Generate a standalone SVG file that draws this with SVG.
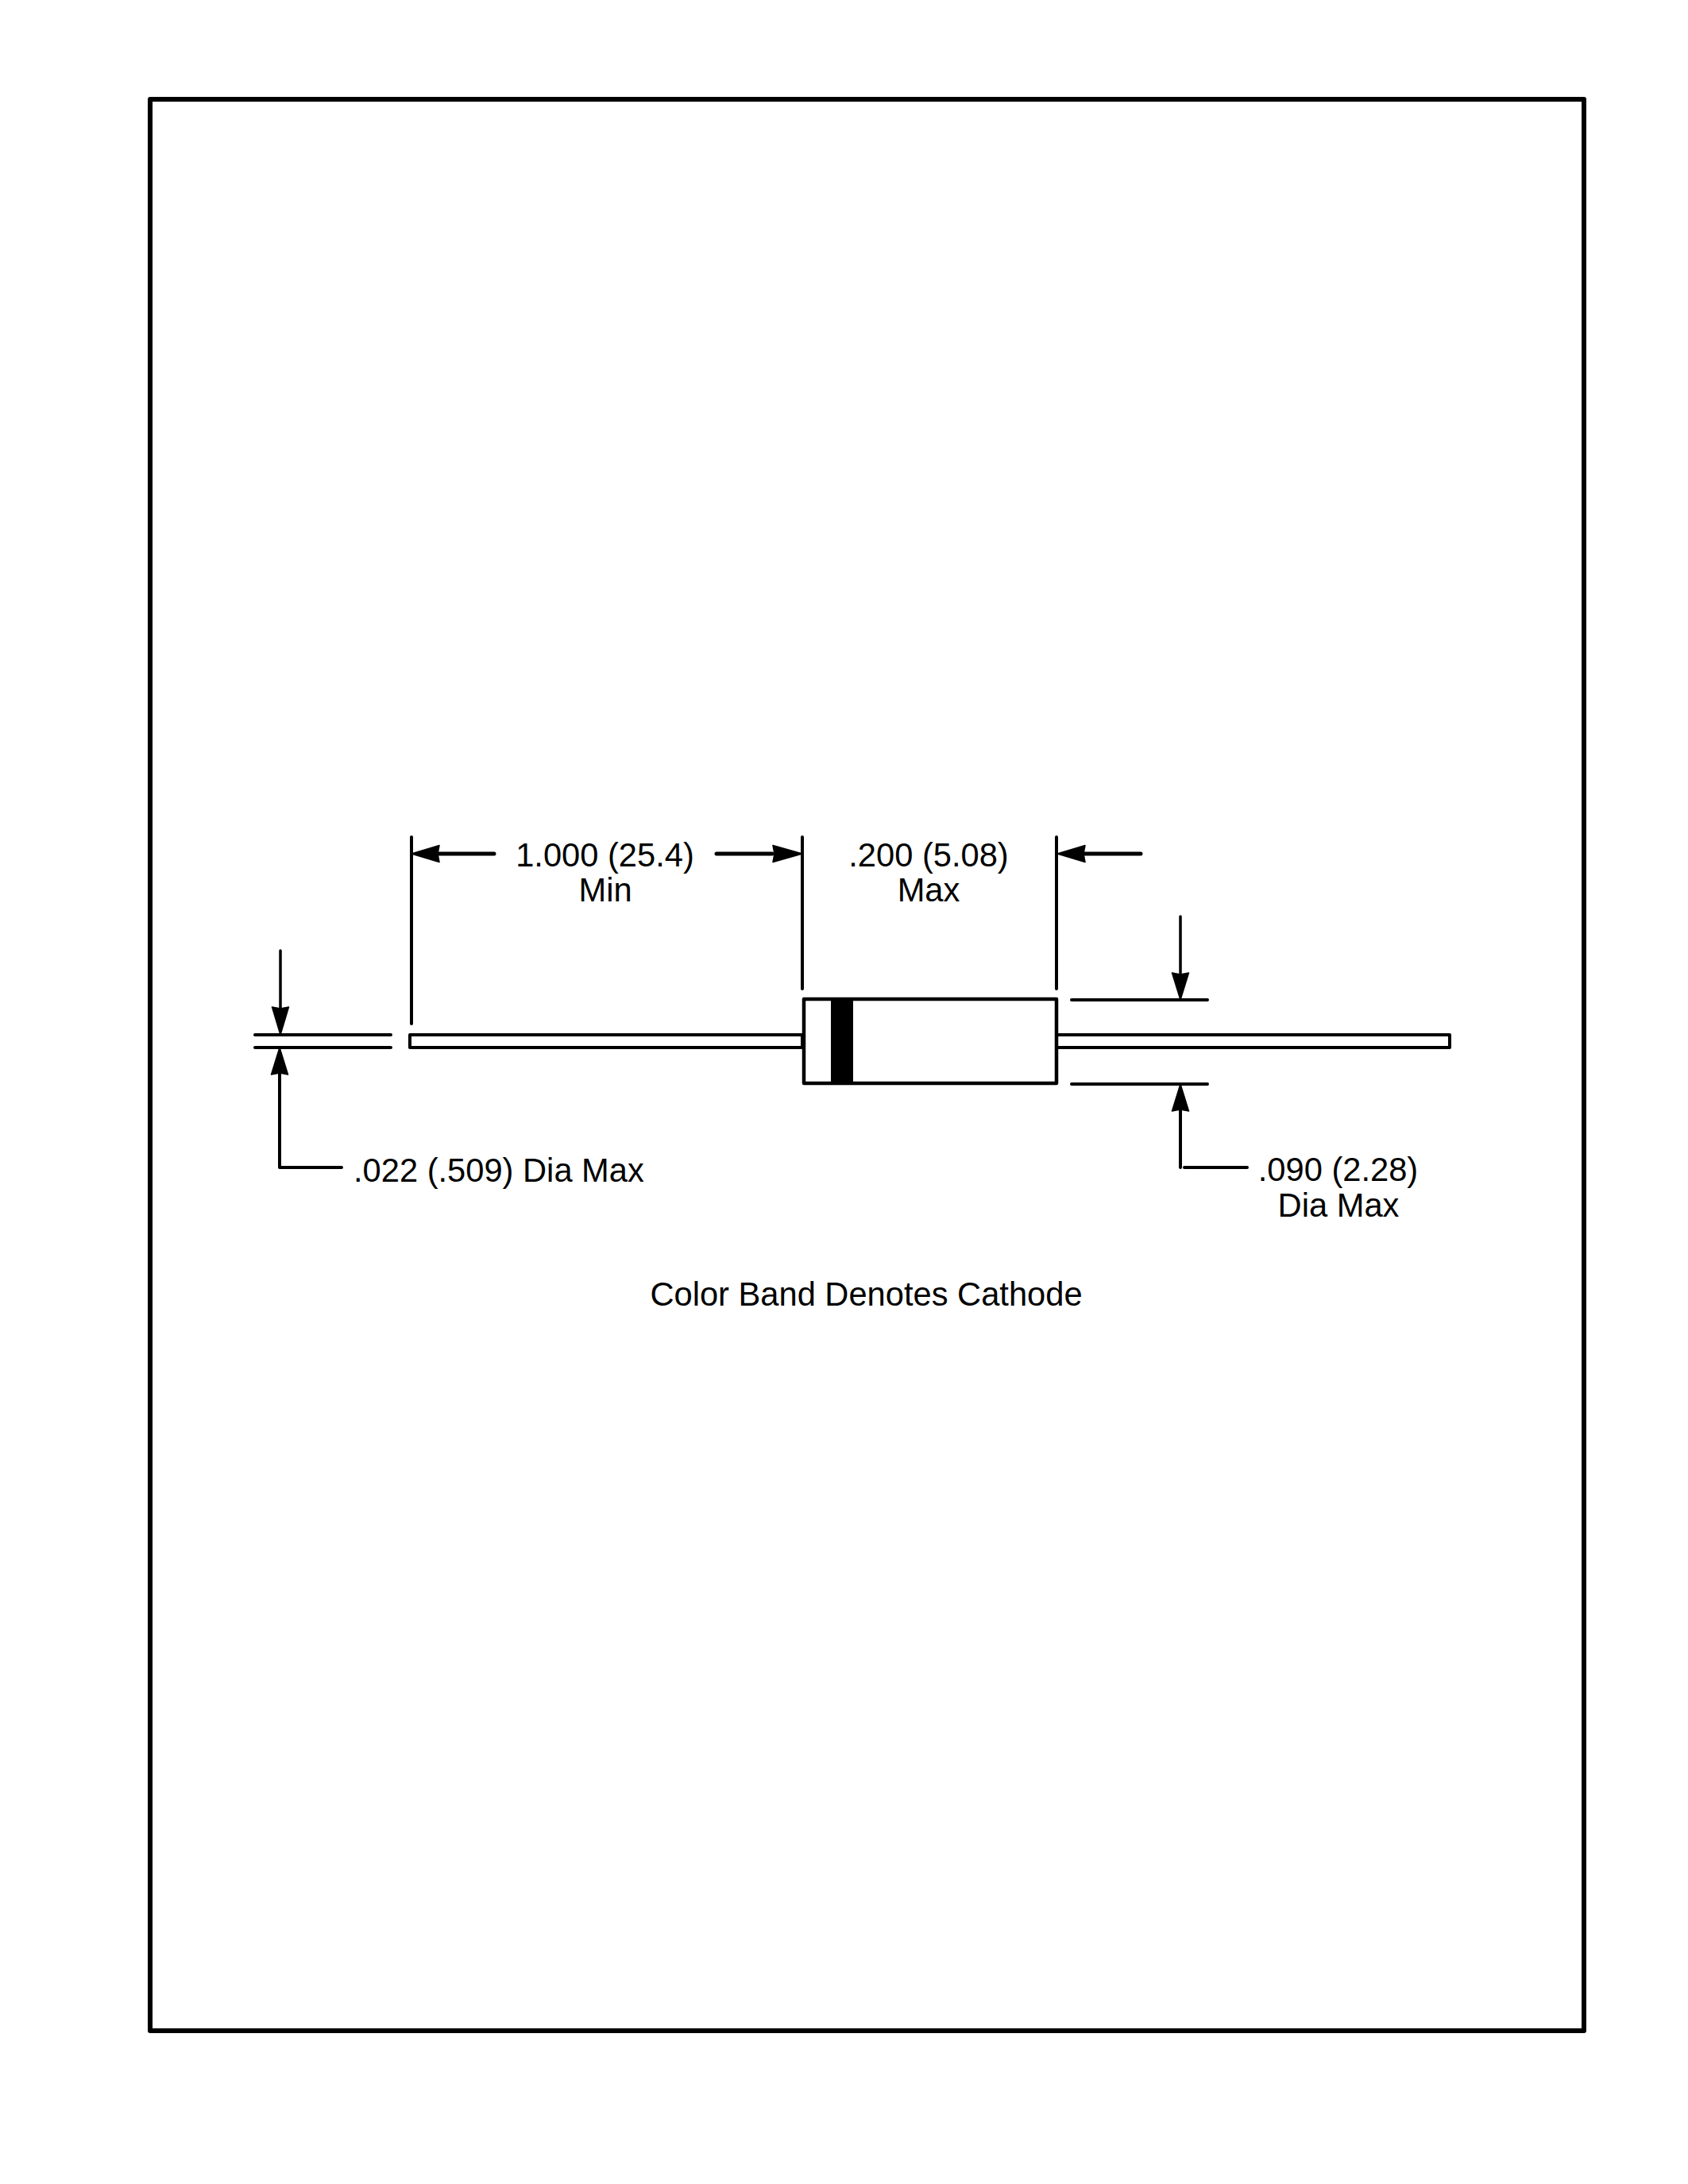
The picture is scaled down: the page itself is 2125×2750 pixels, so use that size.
<svg xmlns="http://www.w3.org/2000/svg" width="2125" height="2750" viewBox="0 0 2125 2750">
<style>
.l{fill:none;stroke:#000;stroke-width:4;stroke-linecap:round;stroke-linejoin:round}
.a{fill:none;stroke:#000;stroke-width:5;stroke-linecap:round}
.t{fill:none;stroke:#000;stroke-width:3.500;stroke-linecap:round}
.b{fill:none;stroke:#000;stroke-width:6;stroke-linejoin:round}
.h{fill:#000;stroke:#000;stroke-width:1.500;stroke-linejoin:round}
text{font-family:"Liberation Sans",Arial,sans-serif;font-size:41.67px;fill:#000}
.m{text-anchor:middle}
</style>
<rect width="2125" height="2750" fill="#fff"/>
<rect id="frame" class="b" x="189" y="125" width="1805" height="2432"/>
<g id="diode">
<rect id="lead-left" class="l" x="516" y="1303" width="494" height="16"/>
<rect id="lead-right" class="l" x="1330" y="1303" width="495" height="16"/>
<rect id="body" x="1012" y="1258" width="318" height="106" fill="#fff" stroke="#000" stroke-width="4.500" stroke-linejoin="round"/>
<rect id="band" x="1046" y="1258" width="28" height="106" fill="#000"/>
</g>
<g id="connectors">
<path class="l" d="M518 1054V1289M1010 1054V1245M1330 1054V1245"/>
<path class="l" d="M321 1303H492M321 1319H492M1349 1259H1520M1349 1365H1520"/>
<path class="a" d="M550 1075H622M902 1075H972M1364 1075H1436"/>
<path class="h" d="M518 1075L553 1064.500L551 1075L553 1085.500ZM1010 1075L973 1064.500L975 1075L973 1085.500ZM1331 1075L1366 1064.500L1364 1075L1366 1085.500Z"/>
<path class="t" d="M353 1197V1270M1486 1154V1227"/>
<path class="h" d="M353 1303L342.500 1268L353 1270L363.500 1268ZM1486 1259L1475.500 1225L1486 1227L1496.500 1225ZM352 1319L341.500 1353L352 1351L362.500 1353ZM1486 1365L1475.500 1399L1486 1397L1496.500 1399Z"/>
<path class="l" d="M352 1350V1470H430M1486 1396V1470"/>
<path class="l" d="M1491 1470H1570"/>
</g>
<g id="labels">
<text class="m" x="761.500" y="1091">1.000 (25.4)</text>
<text class="m" x="762" y="1135">Min</text>
<text class="m" x="1169" y="1091">.200 (5.08)</text>
<text class="m" x="1169" y="1135">Max</text>
<text x="445" y="1488">.022 (.509) Dia Max</text>
<text class="m" x="1684.500" y="1487">.090 (2.28)</text>
<text class="m" x="1685" y="1532">Dia Max</text>
<text class="m" x="1090.500" y="1644">Color Band Denotes Cathode</text>
</g>
</svg>
